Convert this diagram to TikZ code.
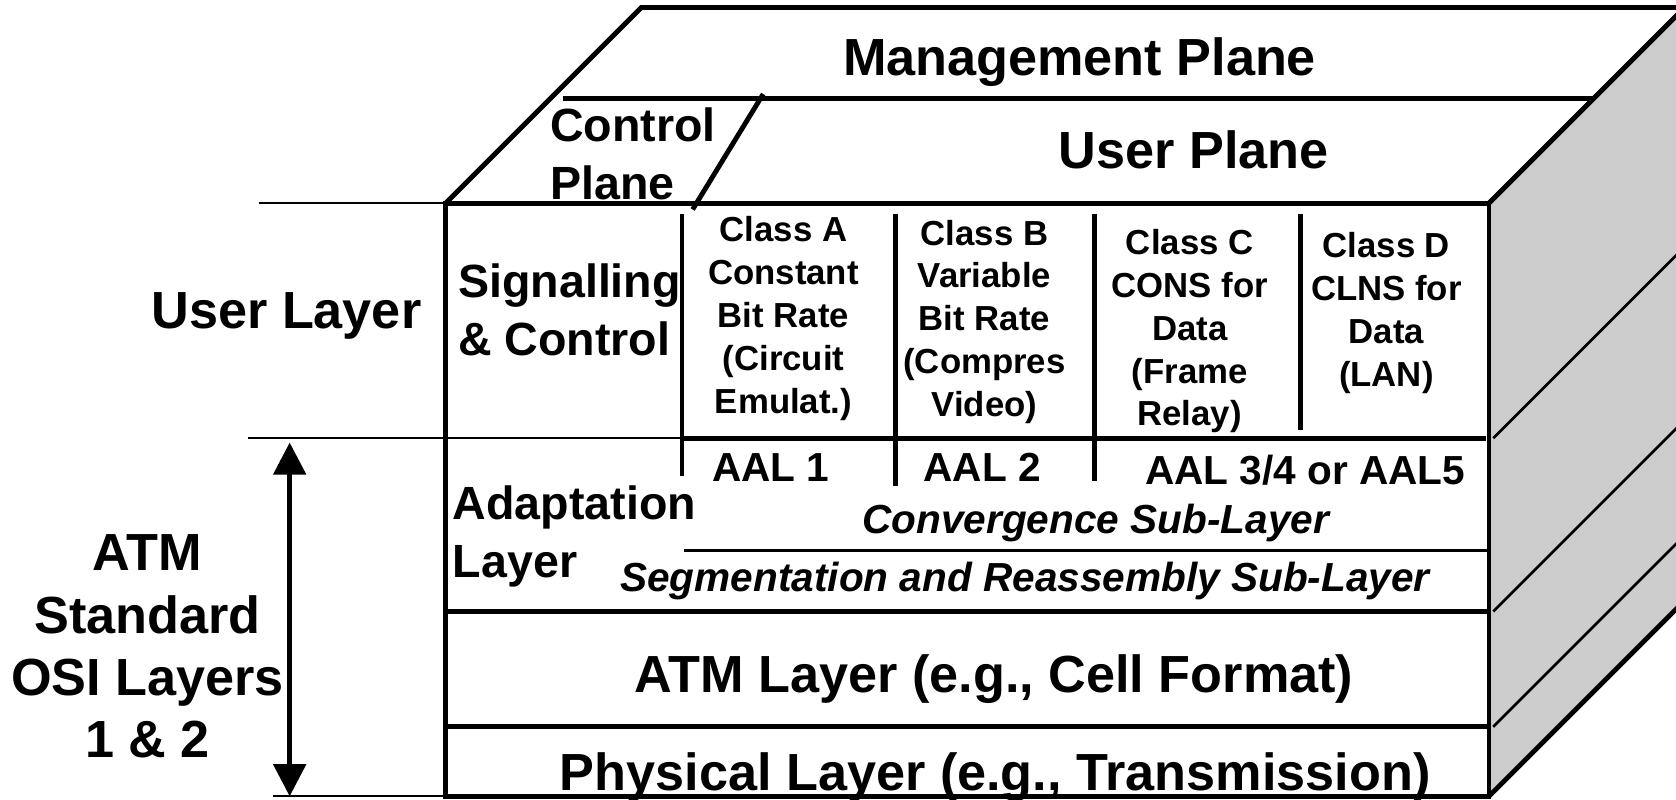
\documentclass[tikz,border=0pt]{standalone}
\usepackage{fontspec}
\setmainfont{Liberation Sans}
\usepackage{tikz}
\usetikzlibrary{arrows.meta}
\definecolor{sidegray}{RGB}{204,204,204}

\begin{document}
\begin{tikzpicture}[
  every node/.style={inner sep=0pt},
  frame/.style={line width=1.3pt},
  hair/.style={line width=0.6pt},
  bigtxt/.style={font=\bfseries\fontsize{13.9}{16.6}\selectfont, align=center},
  midtxt/.style={font=\bfseries\fontsize{12.4}{15.4}\selectfont, align=left},
  classtxt/.style={font=\bfseries\fontsize{9.25}{11.4}\selectfont, align=center},
  aaltxt/.style={font=\bfseries\fontsize{10.8}{13}\selectfont},
  subtxt/.style={font=\bfseries\itshape\fontsize{10.8}{13}\selectfont}
]
\useasboundingbox (0,0) rectangle (15.68,7.48);
\clip (0,0) rectangle (15.68,7.48);

% cube corners
\coordinate (ftl) at (4.17,5.58);
\coordinate (ftr) at (13.93,5.58);
\coordinate (fbl) at (4.17,0.03);
\coordinate (fbr) at (13.93,0.03);
\coordinate (btl) at (6.00,7.41);
\coordinate (btr) at (15.76,7.41);
\coordinate (bbr) at (15.76,1.86);

% side face
\fill[sidegray] (ftr) -- (btr) -- (bbr) -- (fbr) -- cycle;
\draw[frame] (ftl) -- (btl) -- (btr);
\draw[frame] (ftr) -- (btr);
\draw[frame] (fbr) -- (bbr);
\draw[frame] (ftl) rectangle (fbr);

% top face dividers
\coordinate (mg1) at (5.27,6.56);
\coordinate (mg2) at (14.91,6.56);
\coordinate (cp1) at (6.48,5.52);
\coordinate (cp2) at (7.14,6.60);
\draw[frame] (mg1) -- (mg2);
\draw[frame] (cp1) -- (cp2);

% layer lines
\coordinate (ul1) at (2.42,5.58);
\coordinate (al1) at (2.32,3.38);
\coordinate (al2) at (6.40,3.38);
\coordinate (al3) at (13.90,3.38);
\coordinate (cs1) at (6.40,2.33);
\coordinate (cs2) at (13.93,2.33);
\coordinate (at1) at (4.17,1.76);
\coordinate (at2) at (13.93,1.76);
\coordinate (ph1) at (4.17,0.68);
\coordinate (ph2) at (13.93,0.68);
\coordinate (bt1) at (2.55,0.03);
\coordinate (bt2) at (4.35,0.03);
\draw[hair] (ul1) -- (ftl);
\draw[hair] (al1) -- (al2);
\draw[frame] (al2) -- (al3);
\draw[hair] (cs1) -- (cs2);
\draw[frame] (at1) -- (at2);
\draw[frame] (ph1) -- (ph2);
\draw[hair] (bt1) -- (bt2);

% class dividers
\draw[frame] (6.38,5.48) -- (6.38,3.03);
\draw[frame] (8.38,5.48) -- (8.38,2.93);
\draw[frame] (10.24,5.48) -- (10.24,2.98);
\draw[frame] (12.17,5.48) -- (12.17,3.46);

% side face lines
\draw[hair, line width=0.7pt] (13.97,3.38) -- ++(1.79,1.79);
\draw[hair, line width=0.7pt] (13.97,1.76) -- ++(1.79,1.79);
\draw[hair, line width=0.7pt] (13.97,0.68) -- ++(1.79,1.79);

% span arrow
\coordinate (ar1) at (2.71,3.34);
\coordinate (ar2) at (2.71,0.03);
\draw[frame, {Triangle[width=0.3cm,length=0.3cm]}-{Triangle[width=0.3cm,length=0.3cm]}] (ar1) -- (ar2);

% labels
\node[bigtxt, anchor=base] (mgmt) at (10.10,6.77) {Management Plane};
\node[bigtxt, anchor=base] (user) at (11.17,5.905) {User Plane};
\node[midtxt, anchor=west] (ctrl) at (5.14,6.04) {Control\\Plane};
\node[bigtxt, anchor=base] (ulay) at (2.68,4.405) {User Layer};
\node[midtxt, anchor=west] (sig) at (4.28,4.58) {Signalling\\\& Control};
\node[classtxt] (clA) at (7.33,4.50) {Class A\\Constant\\Bit Rate\\(Circuit\\Emulat.)};
\node[classtxt] (clB) at (9.21,4.47) {Class B\\Variable\\Bit Rate\\(Compres\\Video)};
\node[classtxt] (clC) at (11.13,4.38) {Class C\\CONS for\\Data\\(Frame\\Relay)};
\node[classtxt] (clD) at (12.97,4.55) {Class D\\CLNS for\\Data\\(LAN)};
\node[aaltxt, anchor=base] (aal1) at (7.21,2.975) {AAL 1};
\node[aaltxt, anchor=base] (aal2) at (9.19,2.975) {AAL 2};
\node[aaltxt, anchor=base] (aal3) at (12.21,2.945) {AAL 3/4 or AAL5};
\node[midtxt, anchor=west] (adapt) at (4.23,2.46) {Adaptation\\Layer};
\node[subtxt, anchor=base] (conv) at (10.25,2.485) {Convergence Sub-Layer};
\node[subtxt, anchor=base] (sar) at (9.59,1.945) {Segmentation and Reassembly Sub-Layer};
\node[bigtxt, anchor=base] (atm) at (9.30,1.005) {ATM Layer (e.g., Cell Format)};
\node[bigtxt, anchor=base] (phys) at (9.31,0.085) {Physical Layer (e.g., Transmission)};
\node[bigtxt] (osi) at (1.38,1.43) {ATM\\Standard\\OSI Layers\\1 \& 2};
\end{tikzpicture}
\end{document}
